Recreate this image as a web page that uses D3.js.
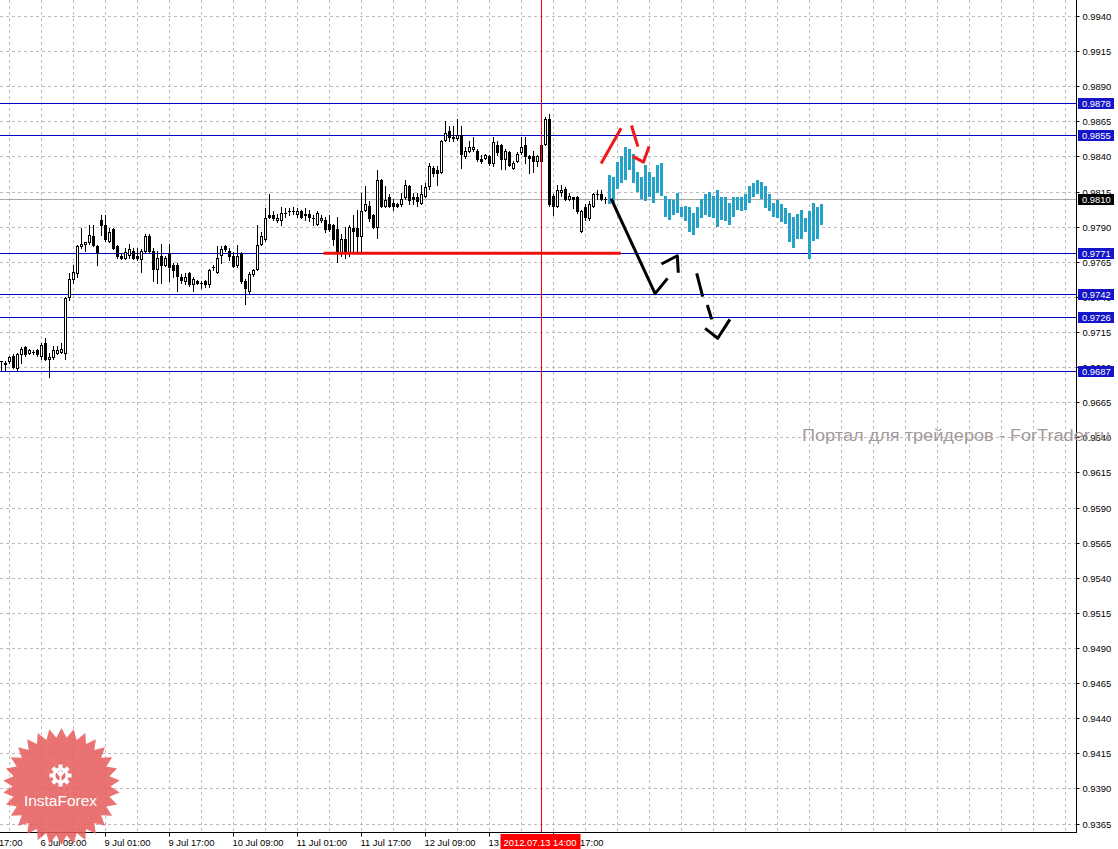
<!DOCTYPE html>
<html><head><meta charset="utf-8">
<script src="https://cdn.jsdelivr.net/npm/d3@7"></script>
<style>body{margin:0;background:#fff;overflow:hidden}svg{display:block}</style>
</head><body>
<svg id="c" width="1118" height="849"></svg>
<script>
// ---------------- DATA ----------------
// hourly candles, bar 0 = 5 Jul 23:00, bar 135 = 13 Jul 14:00
const open = [.9694,.9692,.9694,.9698,.9689,.9699,.9704,.9700,.9701,.9702,
.9698,.9707,.9696,.9697,.9700,.9701,.9700,.9740,.9753,.9757,
.9776,.9778,.9779,.9783,.9776,.9795,.9791,.9780,.9788,.9776,
.9769,.9768,.9770,.9773,.9769,.9767,.9773,.9783,.9773,.9760,
.9769,.9763,.9771,.9763,.9763,.9754,.9751,.9757,.9749,.9751,
.9750,.9751,.9749,.9761,.9758,.9770,.9776,.9773,.9769,.9763,
.9771,.9751,.9744,.9756,.9760,.9778,.9781,.9798,.9798,.9795,
.9795,.9800,.9801,.9801,.9799,.9801,.9799,.9799,.9796,.9792,
.9795,.9795,.9792,.9791,.9788,.9772,.9781,.9772,.9789,.9789,
.9783,.9802,.9805,.9798,.9790,.9823,.9805,.9811,.9807,.9806,
.9806,.9811,.9819,.9811,.9811,.9807,.9812,.9819,.9832,.9830,
.9829,.9852,.9858,.9853,.9853,.9855,.9840,.9844,.9845,.9844,
.9838,.9839,.9840,.9835,.9848,.9848,.9838,.9843,.9832,.9837,
.9843,.9848,.9840,.9840,.9837,.9837,.9849,.9867,.9812,.9805,
.9815,.9817,.9810,.9811,.9811,.9787,.9804,.9796,.9805,.9813,
.9813,.9810];
const high = [.9694,.9694,.9698,.9699,.9700,.9704,.9705,.9703,.9702,.9703,
.9707,.9711,.9700,.9705,.9705,.9707,.9740,.9757,.9763,.9777,
.9789,.9779,.9791,.9791,.9777,.9798,.9798,.9789,.9789,.9777,
.9771,.9775,.9778,.9775,.9775,.9774,.9785,.9785,.9775,.9773,
.9778,.9769,.9778,.9764,.9764,.9756,.9757,.9758,.9754,.9752,
.9751,.9752,.9760,.9763,.9776,.9776,.9777,.9775,.9772,.9777,
.9772,.9753,.9758,.9760,.9791,.9786,.9803,.9813,.9801,.9799,
.9804,.9803,.9803,.9804,.9803,.9802,.9803,.9802,.9798,.9801,
.9798,.9797,.9798,.9792,.9797,.9785,.9790,.9791,.9798,.9802,
.9814,.9819,.9808,.9799,.9830,.9824,.9819,.9813,.9810,.9807,
.9814,.9823,.9820,.9814,.9814,.9820,.9821,.9835,.9833,.9833,
.9852,.9865,.9862,.9862,.9867,.9862,.9847,.9851,.9854,.9845,
.9841,.9842,.9841,.9854,.9851,.9849,.9845,.9844,.9837,.9843,
.9854,.9854,.9841,.9844,.9841,.9854,.9868,.9870,.9813,.9820,
.9820,.9818,.9814,.9811,.9812,.9802,.9806,.9808,.9814,.9816,
.9816,.9811];
const low = [.9687,.9688,.9693,.9689,.9688,.9693,.9698,.9699,.9699,.9698,
.9696,.9695,.9683,.9696,.9699,.9700,.9696,.9738,.9750,.9754,
.9775,.9773,.9778,.9776,.9763,.9784,.9780,.9779,.9774,.9768,
.9767,.9767,.9768,.9767,.9766,.9758,.9772,.9772,.9751,.9750,
.9750,.9762,.9751,.9754,.9744,.9750,.9749,.9748,.9744,.9749,
.9746,.9747,.9747,.9759,.9757,.9764,.9773,.9766,.9761,.9761,
.9750,.9735,.9743,.9755,.9759,.9777,.9780,.9796,.9795,.9793,
.9791,.9797,.9798,.9799,.9797,.9796,.9795,.9794,.9791,.9791,
.9793,.9786,.9787,.9777,.9765,.9769,.9768,.9769,.9771,.9773,
.9773,.9801,.9794,.9789,.9782,.9804,.9804,.9804,.9802,.9804,
.9805,.9810,.9806,.9806,.9805,.9806,.9811,.9817,.9826,.9820,
.9828,.9851,.9851,.9851,.9852,.9832,.9839,.9843,.9844,.9837,
.9835,.9838,.9834,.9833,.9841,.9831,.9831,.9833,.9831,.9836,
.9842,.9835,.9828,.9829,.9833,.9835,.9848,.9805,.9798,.9804,
.9812,.9809,.9809,.9803,.9800,.9786,.9795,.9795,.9804,.9810,
.9809,.9807];
const close = [.9694,.9693,.9697,.9690,.9699,.9703,.9699,.9702,.9701,.9699,
.9706,.9696,.9697,.9702,.9702,.9703,.9739,.9753,.9758,.9776,
.9778,.9779,.9784,.9777,.9771,.9791,.9781,.9786,.9775,.9769,
.9768,.9772,.9774,.9768,.9768,.9773,.9783,.9773,.9760,.9768,
.9763,.9768,.9761,.9759,.9755,.9752,.9754,.9749,.9753,.9750,
.9750,.9749,.9759,.9761,.9768,.9774,.9774,.9769,.9762,.9769,
.9751,.9746,.9756,.9759,.9777,.9783,.9796,.9797,.9796,.9796,
.9800,.9800,.9801,.9801,.9801,.9797,.9798,.9797,.9796,.9800,
.9796,.9788,.9788,.9781,.9772,.9781,.9772,.9790,.9787,.9783,
.9801,.9806,.9796,.9790,.9823,.9805,.9809,.9805,.9805,.9805,
.9810,.9820,.9809,.9810,.9808,.9813,.9818,.9833,.9828,.9828,
.9851,.9857,.9854,.9854,.9855,.9842,.9844,.9847,.9847,.9838,
.9837,.9841,.9835,.9850,.9843,.9838,.9844,.9834,.9835,.9842,
.9847,.9840,.9839,.9837,.9840,.9848,.9867,.9806,.9805,.9816,
.9816,.9810,.9812,.9810,.9801,.9801,.9797,.9806,.9813,.9813,
.9810,.9810];

// forecast range bars (cyan), starting at bar 152
const forecastStart = 152;
const fcHigh = [.9827,.9825,.9836,.9840,.9847,.9845,.9842,.9829,.9825,.9834,
.9829,.9825,.9834,.9835,.9812,.9810,.9809,.9814,.9804,.9805,
.9804,.9800,.9804,.9810,.9813,.9815,.9812,.9816,.9811,.9811,
.9807,.9811,.9811,.9811,.9813,.9819,.9821,.9823,.9822,.9819,
.9813,.9807,.9809,.9806,.9803,.9800,.9797,.9799,.9802,.9796,
.9801,.9807,.9804,.9806];
const fcLow = [.9806,.9806,.9817,.9821,.9823,.9830,.9821,.9815,.9810,.9808,
.9811,.9807,.9814,.9812,.9797,.9795,.9798,.9800,.9797,.9794,
.9786,.9784,.9789,.9796,.9798,.9797,.9796,.9790,.9795,.9794,
.9791,.9797,.9802,.9801,.9802,.9807,.9811,.9813,.9810,.9803,
.9801,.9797,.9796,.9793,.9792,.9779,.9775,.9781,.9781,.9786,
.9767,.9780,.9781,.9791];

// price scale ticks
const priceTicks = [0.9940,0.9915,0.9890,0.9865,0.9840,0.9815,0.9790,0.9765,0.9740,0.9715,
0.9690,0.9665,0.9640,0.9615,0.9590,0.9565,0.9540,0.9515,0.9490,0.9465,0.9440,0.9415,0.9390,0.9365];
// time scale ticks
const timeTickBars = [-6,10,26,42,58,74,90,106,122,138];
const timeTickLabels = ["5 Jul 17:00","6 Jul 09:00","9 Jul 01:00","9 Jul 17:00","10 Jul 09:00",
"11 Jul 01:00","11 Jul 17:00","12 Jul 09:00","13 Jul 01:00","13 Jul 17:00"];
const gridBars = d3.range(2, 270, 8);

// horizontal levels
const levels = [0.9878,0.9855,0.9771,0.9742,0.9726,0.9687];
const cursorPrice = 0.9810;
const cursorBar = 135;
const cursorLabel = "2012.07.13 14:00";
const supportLine = {from: 80.5, to: 154.8, price: 0.9771};

// hand-drawn annotations [bar, price]
const redMarks = [
  [[149.9,0.9835],[154.9,0.9860]],
  [[157.5,0.9862],[159.1,0.9847]],
  [[157.8,0.9840],[160.5,0.9836],[161.9,0.9847]]
];
const blackMarks = [
  [[152.4,0.9810],[163.4,0.97423],[166.5,0.97532]],
  [[165.0,0.97634],[168.95,0.97693],[169.2,0.97572]],
  [[173.8,0.97568],[175.3,0.97401]],
  [[176.45,0.97342],[177.55,0.97240]],
  [[175.9,0.97176],[179.05,0.97105],[182.1,0.97240]]
];
const watermark = "Портал для трейдеров - ForTrader.ru";
const logoText = "InstaForex";

// ---------------- CHART ----------------
const svg = d3.select("#c");
const plotR = 1076, plotB = 832;
const FONT = "'Liberation Sans', Arial, sans-serif";
const FS = "9.4px";
const x = d3.scaleLinear().domain([0, 1]).range([1.5, 5.5]);
const y = d3.scaleLinear().domain([0.9365, 0.9940]).range([823.5, 16]);
const py = v => Math.round(y(v)) + 0.5;

svg.append("rect").attr("width",1118).attr("height",849).attr("fill","#fff");

// grid
const grid = svg.append("g").attr("stroke","#bfb8bf").attr("stroke-dasharray","3,3").attr("stroke-width",1);
grid.selectAll("line.h").data(priceTicks).join("line")
  .attr("x1",0).attr("x2",plotR).attr("y1",d=>py(d)).attr("y2",d=>py(d));
grid.selectAll("line.v").data(gridBars).join("line")
  .attr("stroke","#bcc0bc")
  .attr("x1",d=>x(d)).attr("x2",d=>x(d)).attr("y1",0).attr("y2",plotB);

// cursor horizontal
svg.append("line").attr("x1",0).attr("x2",plotR).attr("y1",py(cursorPrice)).attr("y2",py(cursorPrice))
  .attr("stroke","#a8a8a8").attr("stroke-width",1);

// blue levels
svg.append("g").selectAll("line").data(levels).join("line")
  .attr("x1",0).attr("x2",plotR).attr("y1",d=>py(d)).attr("y2",d=>py(d))
  .attr("stroke","#0000c8").attr("stroke-width",1);

// candles
const bars = open.map((o,i)=>({i,o,h:Math.max(high[i],o,close[i]),l:Math.min(low[i],o,close[i]),c:close[i]}));
const cg = svg.append("g");
bars.forEach(d=>{
  const xc = x(d.i);
  const yh = Math.round(y(d.h)), yl = Math.round(y(d.l));
  cg.append("line").attr("x1",xc).attr("x2",xc).attr("y1",yh).attr("y2",yl+1).attr("stroke","#000");
  const yt = Math.round(y(Math.max(d.o,d.c))), yb = Math.round(y(Math.min(d.o,d.c)));
  if (yb - yt < 1) {
    cg.append("line").attr("x1",xc-1.5).attr("x2",xc+1.5).attr("y1",yt+0.5).attr("y2",yt+0.5).attr("stroke","#000");
  } else {
    cg.append("rect").attr("x",xc-1).attr("width",2).attr("y",yt+0.5).attr("height",yb-yt)
      .attr("fill", d.c < d.o ? "#000" : "#fff").attr("stroke","#000").attr("stroke-width",1);
  }
});

// forecast cyan bars
svg.append("g").selectAll("rect").data(fcHigh.map((h,k)=>({i:forecastStart+k,h,l:fcLow[k]}))).join("rect")
  .attr("x",d=>x(d.i)-1.5).attr("width",3)
  .attr("y",d=>Math.round(y(d.h))).attr("height",d=>Math.round(y(d.l))-Math.round(y(d.h)))
  .attr("fill","#25a2c8");

// red support line
svg.append("line").attr("x1",x(supportLine.from)).attr("x2",x(supportLine.to))
  .attr("y1",y(supportLine.price)).attr("y2",y(supportLine.price))
  .attr("stroke","#f01010").attr("stroke-width",3);

// cursor vertical (red)
svg.append("line").attr("x1",x(cursorBar)).attr("x2",x(cursorBar)).attr("y1",0).attr("y2",plotB)
  .attr("stroke","#ff0000").attr("stroke-width",1);

// annotations
const lineGen = d3.line().x(d=>x(d[0])).y(d=>y(d[1]));
svg.append("g").selectAll("path").data(redMarks).join("path")
  .attr("d",lineGen).attr("fill","none").attr("stroke","#f01818").attr("stroke-width",3)
  .attr("stroke-linejoin","round");
svg.append("g").selectAll("path").data(blackMarks).join("path")
  .attr("d",lineGen).attr("fill","none").attr("stroke","#000").attr("stroke-width",3)
  .attr("stroke-linejoin","round");

// axes
svg.append("line").attr("x1",plotR+0.5).attr("x2",plotR+0.5).attr("y1",0).attr("y2",plotB+1).attr("stroke","#000");
svg.append("line").attr("x1",0).attr("x2",plotR+1).attr("y1",plotB+0.5).attr("y2",plotB+0.5).attr("stroke","#000");

const yAxis = svg.append("g").attr("transform",`translate(${plotR+0.5},0)`)
  .call(d3.axisRight(y).tickValues(priceTicks).tickFormat(d3.format(".4f")).tickSizeInner(3).tickSizeOuter(0).tickPadding(3));
yAxis.select(".domain").remove();
yAxis.selectAll(".tick").attr("transform",d=>`translate(0,${py(d)})`);
yAxis.selectAll("text").attr("font-family",FONT).attr("font-size",FS).attr("fill","#000").attr("dy","0.35em");

const xAxis = svg.append("g").attr("transform",`translate(0,${plotB+0.5})`)
  .call(d3.axisBottom(x).tickValues(timeTickBars).tickFormat((d,i)=>timeTickLabels[i]).tickSizeInner(4).tickSizeOuter(0).tickPadding(3));
xAxis.select(".domain").remove();
xAxis.selectAll(".tick").attr("transform",d=>`translate(${x(d)},0)`);
xAxis.selectAll("text").attr("font-family",FONT).attr("font-size",FS).attr("fill","#000")
  .attr("text-anchor","start").attr("x",-1);

// level labels
const lab = svg.append("g");
levels.forEach(v=>{
  const yy = Math.round(y(v));
  lab.append("rect").attr("x",1078).attr("y",yy-5).attr("width",36).attr("height",11).attr("fill","#1414c8");
  lab.append("text").attr("x",1082).attr("y",yy+0.5).attr("dy","0.35em").attr("font-family",FONT).attr("font-size",FS)
    .attr("fill","#fff").text(v.toFixed(4));
});
{
  const yy = Math.round(y(cursorPrice));
  lab.append("rect").attr("x",1078).attr("y",yy-5).attr("width",36).attr("height",11).attr("fill","#000");
  lab.append("text").attr("x",1082).attr("y",yy+0.5).attr("dy","0.35em").attr("font-family",FONT).attr("font-size",FS)
    .attr("fill","#fff").text(cursorPrice.toFixed(4));
  lab.append("rect").attr("x",x(cursorBar)-41).attr("y",plotB+2).attr("width",80).attr("height",15).attr("fill","#ff0000");
  lab.append("text").attr("x",x(cursorBar)-1.5).attr("y",plotB+13.5).attr("text-anchor","middle").attr("font-family",FONT)
    .attr("font-size",FS).attr("fill","#fff").text(cursorLabel);
}

// watermark
svg.append("text").attr("x",802).attr("y",441).attr("font-family",FONT).attr("font-size","16px")
  .attr("fill","#a39a9a").attr("textLength",308).attr("lengthAdjust","spacingAndGlyphs").text(watermark);

// logo
const lg = svg.append("g").attr("transform","translate(61.5,786.5)");
const nPts = 30, rO = 58.5, rI = 49;
const starPts = d3.range(nPts*2).map(k=>{
  const a = Math.PI*k/nPts - Math.PI/2, r = k%2 ? rI : rO;
  return [Math.cos(a)*r, Math.sin(a)*r];
});
lg.append("path").attr("d","M"+starPts.join("L")+"Z").attr("fill","#e55a5a").attr("opacity",0.85);
const gear = lg.append("g").attr("transform","translate(-1,-11)").attr("fill","#fff");
d3.range(8).forEach(k=>{
  gear.append("rect").attr("x",-2).attr("y",-11).attr("width",4).attr("height",5)
    .attr("transform",`rotate(${k*45})`);
});
gear.append("circle").attr("r",8);
gear.append("circle").attr("r",5).attr("fill","#e86a6a");
gear.append("circle").attr("cy",-3).attr("r",2).attr("fill","#fff");
gear.append("path").attr("d","M-5,-4 L-1,1 L-1,9 L1,9 L1,1 L5,-4 L3,-5 L0,-1 L-3,-5 Z");
lg.append("text").attr("x",-1).attr("y",19).attr("text-anchor","middle").attr("font-family",FONT)
  .attr("font-size","15.5px").attr("fill","#fff").text(logoText);
</script>
</body></html>
